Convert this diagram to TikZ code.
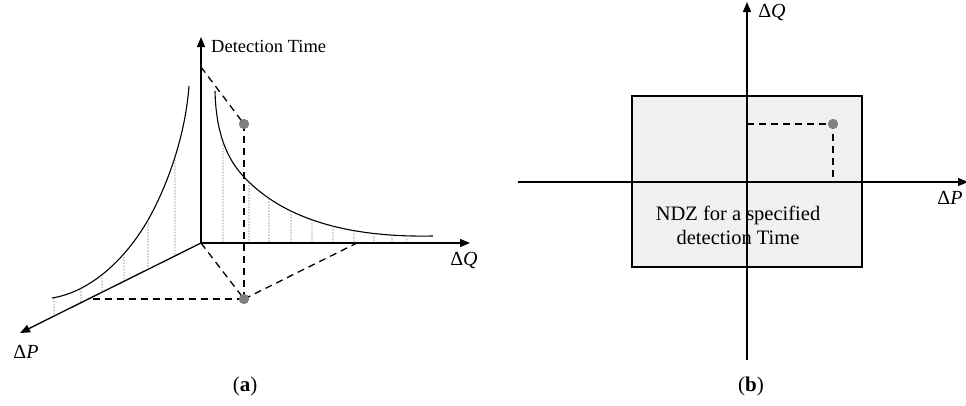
\documentclass[tikz,border=0pt]{standalone}
\usepackage{fontspec}
\setmainfont{Liberation Serif}
\usetikzlibrary{arrows.meta,intersections}
\begin{document}
\begin{tikzpicture}[x=1pt,y=-1pt,
  axis/.style={line width=1.3pt,-{Triangle[length=10pt,width=8pt]}},
  plainaxis/.style={line width=1.3pt},
  dashline/.style={line width=1.3pt,dash pattern=on 7pt off 5pt},
  dotline/.style={black!55,line width=0.8pt,dash pattern=on 1.5pt off 1.5pt},
  curve/.style={line width=1.1pt},
  dotpt/.style={circle,fill=black!50,inner sep=0pt,minimum size=10pt},
  lbl/.style={font=\fontsize{20}{22}\selectfont,inner sep=0pt},
  tlbl/.style={font=\fontsize{18.5}{22}\selectfont,inner sep=0pt},
  txt/.style={font=\fontsize{20.5}{24}\selectfont,inner sep=0pt,align=center},
  captxt/.style={font=\fontsize{21}{24}\selectfont,inner sep=0pt}]
\useasboundingbox (0,0) rectangle (966,405);
% ---------- (a) ----------
\coordinate (O) at (201,243);
\coordinate (Ttip) at (201,37);
\coordinate (Qtip) at (470,243);
\coordinate (Ptip) at (20,333);
\coordinate (Ttop) at (201,67);
\coordinate (Qend) at (357,243);
\coordinate (Pend) at (93,299);
% curves
\draw[curve,name path=lc] (52,298) .. controls (90,292) and (125,260) .. (148,220)
      .. controls (165,190) and (185,140) .. (189,86);
\draw[curve,name path=rc] (215,91) .. controls (216,135) and (228,160) .. (244,177)
      .. controls (275,210) and (330,238) .. (433,236);
% dotted verticals
\path[name path=paxis] (O) -- (Ptip);
\foreach \xx in {54,81,102,124,148,175}{
  \path[name path=vv] (\xx,0) -- (\xx,400);
  \path[name intersections={of=lc and vv,by=ta}];
  \path[name intersections={of=paxis and vv,by=tb}];
  \draw[dotline] (ta) -- (tb);
}
\foreach \xx in {223,249,269,291,312,333,354,374,392,407}{
  \path[name path=vv] (\xx,0) -- (\xx,400);
  \path[name intersections={of=rc and vv,by=ta}];
  \draw[dotline] (ta) -- (\xx,243);
}
% axes
\draw[axis] (O) -- (Ttip);
\draw[axis] (O) -- (Qtip);
\draw[axis] (O) -- (Ptip);
\node[tlbl,anchor=west] (tlab) at (211,46) {Detection Time};
\node[lbl] (qlab) at (464,260) {Δ\textit{Q}};
\node[lbl] (plab) at (26,352) {Δ\textit{P}};
% points
\node[dotpt] (A) at (244,124) {};
\node[dotpt] (B) at (244,299) {};
\draw[dashline] (Ttop) -- (A.center);
\draw[dashline] (A.center) -- (B.center);
\draw[dashline] (O) -- (B.center);
\draw[dashline] (B.center) -- (Qend);
\draw[dashline] (B.center) -- (Pend);
\node[dotpt] at (A) {};
\node[dotpt] at (B) {};
\node[captxt] (capa) at (245,386) {(\textbf{a})};
% ---------- (b) ----------
\node[draw,line width=1.1pt,fill=black!6,minimum width=230pt,minimum height=171pt,inner sep=0pt] (ndz) at (747,181.5) {};
\coordinate (O2) at (747,182);
\coordinate (Hl) at (518,182);
\coordinate (Hr) at (968,182);
\coordinate (Vb) at (747,360);
\coordinate (Vt) at (747,2);
\draw[plainaxis] (Hl) -- (O2);
\draw[axis] (O2) -- (Hr);
\draw[plainaxis] (Vb) -- (O2);
\draw[axis] (O2) -- (Vt);
\node[lbl] (q2) at (772,12) {Δ\textit{Q}};
\node[lbl] (p2) at (950,198) {Δ\textit{P}};
\node[txt] (ndztxt) at (738,225) {NDZ for a specified\\detection Time};
\coordinate (C2) at (747,124);
\coordinate (D2) at (833,182);
\node[dotpt] (E) at (833,124) {};
\draw[dashline] (C2) -- (E.center) -- (D2);
\node[dotpt] at (E) {};
\node[captxt] (capb) at (751,386) {(\textbf{b})};
\end{tikzpicture}
\end{document}
